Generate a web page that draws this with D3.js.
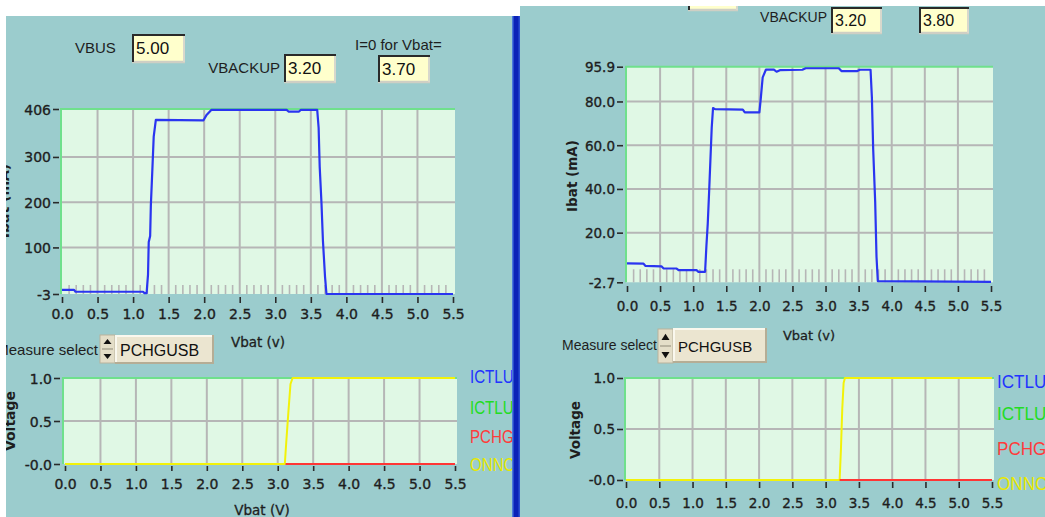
<!DOCTYPE html>
<html>
<head>
<meta charset="utf-8">
<script src="https://cdn.jsdelivr.net/npm/d3@7"></script>
<style>
  html, body { margin: 0; padding: 0; background: #fff; }
  svg { display: block; }
</style>
</head>
<body>
<svg id="chart" width="1045" height="517"></svg>
<script>
// ---------------- data ----------------
const xTickValues = [0, 0.5, 1.0, 1.5, 2.0, 2.5, 3.0, 3.5, 4.0, 4.5, 5.0, 5.5];
const xMinorValues = [0.1,0.2,0.3,0.4, 0.6,0.7,0.8,0.9, 1.1,1.2,1.3,1.4, 1.6,1.7,1.8,1.9,
  2.1,2.2,2.3,2.4, 2.6,2.7,2.8,2.9, 3.1,3.2,3.3,3.4, 3.6,3.7,3.8,3.9,
  4.1,4.2,4.3,4.4, 4.6,4.7,4.8,4.9, 5.1,5.2,5.3,5.4];

// Run A: VBUS 5.00 V, VBACKUP 3.20 V, zero current at Vbat = 3.70 V
const controlLabelsA = ["VBUS", "VBACKUP", "I=0 for Vbat="];
const controlValuesA = ["5.00", "3.20", "3.70"];
const vbatA = [0.00, 0.17, 0.19, 1.14, 1.16, 1.19, 1.21, 1.22, 1.24, 1.25, 1.27, 1.29, 1.32,
  1.99, 2.03, 2.10, 3.16, 3.19, 3.33, 3.36, 3.59, 3.61, 3.625, 3.65, 3.67, 3.70, 3.72, 5.50];
const ibatA = [6, 6, 2, 2, -1, -1, 40, 112, 125, 194, 268, 345, 382,
  381, 392, 404, 404, 400, 400, 404, 404, 364, 278, 198, 116, 35, -3, -3];
const ibatTicksA = [-3, 100, 200, 300, 406];
const ibatTickLabelsA = ["-3", "100", "200", "300", "406"];
const onncVbatA = [0.00, 3.10, 3.12, 3.15, 3.18, 3.21, 5.50];
const onncA = [0, 0, 0.25, 0.6, 0.93, 1, 1];
const pchgVbatA = [3.11, 5.50];
const pchgA = [0, 0];

// Run B: VBACKUP 3.20 V, zero current at Vbat = 3.80 V (VBUS field only partly in view)
const controlLabelsB = ["", "VBACKUP", ""];
const controlValuesB = ["", "3.20", "3.80"];
const vbatB = [0.00, 0.25, 0.28, 0.52, 0.55, 0.75, 0.78, 1.05, 1.08, 1.18, 1.20, 1.22, 1.24, 1.26,
  1.28, 1.30, 1.33, 1.75, 1.78, 2.00, 2.02, 2.05, 2.10, 2.22, 2.26, 2.31, 2.65, 2.70, 3.20,
  3.24, 3.48, 3.52, 3.68, 3.70, 3.72, 3.75, 3.77, 3.79, 5.50];
const ibatB = [6.0, 5.8, 4.8, 4.6, 3.7, 3.6, 2.9, 2.9, 2.1, 2.1, 14, 24, 38, 53,
  68, 77, 76.5, 76.3, 75.0, 75.0, 81, 91, 94.6, 94.6, 93.6, 94.3, 94.5, 95.2, 95.2,
  93.9, 93.9, 94.5, 94.5, 82, 58, 34, 9, -2.2, -2.5];
const ibatTicksB = [-2.7, 20, 40, 60, 80, 95.9];
const ibatTickLabelsB = ["-2.7", "20.0", "40.0", "60.0", "80.0", "95.9"];
const onncVbatB = [0.00, 3.21, 3.23, 3.25, 3.27, 3.29, 5.50];
const onncB = [0, 0, 0.3, 0.7, 0.95, 1, 1];
const pchgVbatB = [3.21, 5.50];
const pchgB = [0, 0];

const voltTicks = [0, 0.5, 1.0];
const voltTickLabels = ["-0.0", "0.5", "1.0"];
const legendNames = ["ICTLUSB", "ICTLUVB", "PCHGUSB", "ONNCHG"];
const measureChoice = "PCHGUSB";

// ---------------- styles ----------------
const C = {
  panel: "#9bcccd", plotBg: "#e0f8e5", grid: "#b6b6b6", frame: "#6fe08c",
  tick: "#2a2a2a", text: "#1e1e1e", ibat: "#2a35f0",
  onnc: "#f2f20a", pchg: "#ff3535",
  legend: ["#2233ff", "#22dd22", "#ff3b3b", "#e8e800"],
  box: "#ffffcc", divider: "#0b22b8"
};
const TICK_FONT = "'DejaVu Sans', Verdana, sans-serif";
const UI_FONT = "'Liberation Sans', Arial, sans-serif";

// ---------------- layouts ----------------
const layoutA = {
  key: "A", clip: [6, 16, 506, 501], fs: 14, uiFs: 15, boxFs: 17,
  labels: [[75, 48, "start"], [280, 68, "end"], [355, 45, "start"]],
  boxes: [[132, 34, 53, 28], [284, 54, 52, 28], [378, 55, 52, 27]],
  top: { left: 61, right: 455, x0: 62, x1: 453, yt: 109, yb: 294, yAxisX: 59, xAxisY: 297,
         xTick: 6, xLabelY: 314, minorH: 9, yTitle: [9, 201], xTitle: [258, 342] },
  sel: { textEnd: 98, ty: 350, spin: [100, 335, 15, 28], box: [115, 335, 99, 29] },
  bot: { left: 63, right: 457, x0: 65, x1: 455, yt: 378, yb: 464, yAxisX: 60, xAxisY: 466,
         xTick: 5, xLabelY: 484, minorH: 0, yTitle: [15, 421], xTitle: [262, 510] },
  legend: { x: 470, ys: [377, 408, 437, 465], fs: 18, sx: 0.84 }
};
const layoutB = {
  key: "B", clip: [520, 6, 525, 511], fs: 13.5, uiFs: 14, boxFs: 16,
  labels: [[634, -3, "start"], [827, 17, "end"], [898, -3, "start"]],
  boxes: [[688, -16, 50, 26], [831, 7, 51, 26], [919, 7, 50, 26]],
  top: { left: 626, right: 993, x0: 627, x1: 991, yt: 66.7, yb: 282.3, yAxisX: 623, xAxisY: 286,
         xTick: 6, xLabelY: 306, minorH: 13, yTitle: [577, 176], xTitle: [809, 335] },
  sel: { textEnd: 657, ty: 345, spin: [658, 329, 15, 34], box: [673, 328, 94, 35] },
  bot: { left: 625, right: 994, x0: 626, x1: 992, yt: 378, yb: 480, yAxisX: 623, xAxisY: 482,
         xTick: 6, xLabelY: 503, minorH: 0, yTitle: [580, 430], xTitle: null },
  legend: { x: 997, ys: [381, 413, 448, 483], fs: 19, sx: 0.9 }
};

const svg = d3.select("#chart");
svg.append("rect").attr("width", 1045).attr("height", 517).attr("fill", "#fff");

function numBox(g, b, value, fs) {
  const [x, y, w, h] = b;
  g.append("rect").attr("x", x).attr("y", y).attr("width", w).attr("height", h).attr("fill", C.box);
  g.append("path").attr("d", `M${x + w},${y + h}H${x}`).attr("stroke", "#cfcfc4").attr("stroke-width", 2.5);
  g.append("path").attr("d", `M${x + w - 1},${y}V${y + h}`).attr("stroke", "#d8d8cc").attr("stroke-width", 2);
  g.append("path").attr("d", `M${x + 1},${y + h}V${y + 1}H${x + w}`).attr("fill", "none")
    .attr("stroke", "#2a2a2a").attr("stroke-width", 2);
  if (value) {
    g.append("text").attr("x", x + 4).attr("y", y + h / 2).attr("dy", "0.36em")
      .attr("font-family", UI_FONT).attr("font-size", fs).attr("fill", "#111").text(value);
  }
}

function drawPlot(g, P, L, yDomain, yTicks, yLabels, series, yTitle, xTitle) {
  const x = d3.scaleLinear().domain([0, 5.5]).range([P.x0, P.x1]);
  const y = d3.scaleLinear().domain(yDomain).range([P.yb, P.yt]);

  g.append("rect").attr("x", P.left).attr("y", P.yt).attr("width", P.right - P.left)
    .attr("height", P.yb - P.yt).attr("fill", C.plotBg);

  // grid
  g.append("g").selectAll("line").data(xTickValues.slice(1, -1)).join("line")
    .attr("x1", d => x(d)).attr("x2", d => x(d)).attr("y1", P.yt).attr("y2", P.yb)
    .attr("stroke", C.grid).attr("stroke-width", 2);
  g.append("g").selectAll("line").data(yTicks.slice(1, -1)).join("line")
    .attr("x1", P.left).attr("x2", P.right).attr("y1", d => y(d)).attr("y2", d => y(d))
    .attr("stroke", C.grid).attr("stroke-width", 2);
  if (P.minorH > 0) {
    g.append("g").selectAll("line").data(xMinorValues).join("line")
      .attr("x1", d => x(d)).attr("x2", d => x(d)).attr("y1", P.yb).attr("y2", P.yb - P.minorH)
      .attr("stroke", C.grid).attr("stroke-width", 1.6);
  }
  // frame
  g.append("path").attr("d", `M${P.left},${P.yb}V${P.yt}H${P.right}`).attr("fill", "none")
    .attr("stroke", C.frame).attr("stroke-width", 2);

  // series
  const line = d3.line().x(d => x(d[0])).y(d => y(d[1]));
  series.forEach(s => {
    g.append("path").datum(d3.zip(s.xs, s.ys)).attr("d", line).attr("fill", "none")
      .attr("stroke", s.color).attr("stroke-width", s.w || 2).attr("stroke-linejoin", "round");
  });

  // axes
  const ya = g.append("g").attr("transform", `translate(${P.yAxisX},0)`)
    .call(d3.axisLeft(y).tickValues(yTicks).tickFormat((d, i) => yLabels[i]).tickSize(6).tickPadding(2));
  const xa = g.append("g").attr("transform", `translate(0,${P.xAxisY})`)
    .call(d3.axisBottom(x).tickValues(xTickValues).tickFormat(d3.format(".1f")).tickSize(P.xTick));
  [ya, xa].forEach(a => {
    a.select(".domain").remove();
    a.selectAll(".tick line").attr("stroke", C.tick).attr("stroke-width", 1.6);
    a.selectAll("text").attr("font-family", TICK_FONT).attr("font-size", L.fs).attr("fill", C.text)
      .attr("stroke", C.text).attr("stroke-width", 0.35);
  });
  ya.selectAll("text").attr("dy", "0.36em");
  xa.selectAll("text").attr("y", P.xLabelY - P.xAxisY).attr("dy", "0.36em");

  // titles
  g.append("text").attr("transform", `translate(${P.yTitle[0]},${P.yTitle[1]}) rotate(-90)`)
    .attr("text-anchor", "middle").attr("font-family", TICK_FONT).attr("font-weight", "bold")
    .attr("font-size", L.fs).attr("fill", C.text).text(yTitle);
  if (P.xTitle) {
    g.append("text").attr("x", P.xTitle[0]).attr("y", P.xTitle[1]).attr("dy", "0.36em")
      .attr("text-anchor", "middle").attr("font-family", TICK_FONT)
      .attr("font-size", L.fs - 0.5).attr("fill", C.text)
      .attr("stroke", C.text).attr("stroke-width", 0.3).text(xTitle);
  }
}

function drawPanel(L, labels, controls, vbat, ibat, ibatTicks, ibatLabels, onncX, onnc, pchgX, pchg) {
  const [cx, cy, cw, ch] = L.clip;
  svg.append("clipPath").attr("id", "clip" + L.key).append("rect")
    .attr("x", cx).attr("y", cy).attr("width", cw).attr("height", ch);
  const g = svg.append("g").attr("clip-path", `url(#clip${L.key})`);
  g.append("rect").attr("x", cx).attr("y", cy).attr("width", cw).attr("height", ch).attr("fill", C.panel);

  // numeric controls
  labels.forEach((t, i) => {
    const [lx, ly, anchor] = L.labels[i];
    if (t) {
      g.append("text").attr("x", lx).attr("y", ly).attr("dy", "0.36em").attr("text-anchor", anchor)
        .attr("font-family", UI_FONT).attr("font-size", L.uiFs).attr("fill", C.text).text(t);
    }
    numBox(g, L.boxes[i], controls[i], L.boxFs);
  });

  // current graph
  drawPlot(g, L.top, L, [ibatTicks[0], ibatTicks[ibatTicks.length - 1]], ibatTicks, ibatLabels,
    [{ xs: vbat, ys: ibat, color: C.ibat, w: 2.2 }], "Ibat (mA)", "Vbat (v)");

  // measure selector
  const S = L.sel;
  g.append("text").attr("x", S.textEnd).attr("y", S.ty).attr("dy", "0.36em").attr("text-anchor", "end")
    .attr("font-family", UI_FONT).attr("font-size", L.uiFs).attr("fill", C.text).text("Measure select");
  const [sx, sy, sw, sh] = S.spin;
  g.append("rect").attr("x", sx).attr("y", sy).attr("width", sw).attr("height", sh)
    .attr("fill", "#e4dec8").attr("stroke", "#b9b29c").attr("stroke-width", 1);
  g.append("line").attr("x1", sx + 2).attr("x2", sx + sw - 2).attr("y1", sy + sh / 2).attr("y2", sy + sh / 2)
    .attr("stroke", "#8f8a78").attr("stroke-width", 1);
  const mx = sx + sw / 2;
  g.append("path").attr("d", `M${mx - 4},${sy + sh * 0.32}L${mx + 4},${sy + sh * 0.32}L${mx},${sy + sh * 0.14}Z`).attr("fill", "#111");
  g.append("path").attr("d", `M${mx - 4},${sy + sh * 0.68}L${mx + 4},${sy + sh * 0.68}L${mx},${sy + sh * 0.86}Z`).attr("fill", "#111");
  const [bx, by, bw, bh] = S.box;
  g.append("rect").attr("x", bx).attr("y", by).attr("width", bw).attr("height", bh).attr("fill", "#ebe5d0");
  g.append("path").attr("d", `M${bx + 1},${by + bh}V${by + 1}H${bx + bw}`).attr("fill", "none")
    .attr("stroke", "#faf8ee").attr("stroke-width", 2);
  g.append("path").attr("d", `M${bx},${by + bh - 1}H${bx + bw - 1}V${by}`).attr("fill", "none")
    .attr("stroke", "#b5ad95").attr("stroke-width", 2);
  g.append("text").attr("x", bx + 5).attr("y", by + bh / 2 + 1).attr("dy", "0.36em")
    .attr("font-family", UI_FONT).attr("font-size", L.boxFs - 1).attr("fill", "#111").text(measureChoice);

  // logic-level graph
  drawPlot(g, L.bot, L, [0, 1], voltTicks, voltTickLabels,
    [{ xs: onncX, ys: onnc, color: C.onnc, w: 2 }, { xs: pchgX, ys: pchg, color: C.pchg, w: 2 }],
    "Voltage", "Vbat (V)");

  // plot legend
  legendNames.forEach((name, i) => {
    g.append("text").attr("transform", `translate(${L.legend.x},${L.legend.ys[i]}) scale(${L.legend.sx},1)`)
      .attr("dy", "0.36em").attr("font-family", UI_FONT).attr("font-size", L.legend.fs)
      .attr("fill", C.legend[i]).text(name);
  });
}

drawPanel(layoutA, controlLabelsA, controlValuesA, vbatA, ibatA, ibatTicksA, ibatTickLabelsA, onncVbatA, onncA, pchgVbatA, pchgA);
drawPanel(layoutB, controlLabelsB, controlValuesB, vbatB, ibatB, ibatTicksB, ibatTickLabelsB, onncVbatB, onncB, pchgVbatB, pchgB);

// divider between the two panels
svg.append("rect").attr("x", 512).attr("y", 16).attr("width", 8).attr("height", 501).attr("fill", C.divider);
svg.append("rect").attr("x", 512).attr("y", 16).attr("width", 1.5).attr("height", 501).attr("fill", "#4a78dc");
svg.append("rect").attr("x", 518.5).attr("y", 16).attr("width", 1.5).attr("height", 501).attr("fill", "#2a4ed0");
</script>
</body>
</html>
